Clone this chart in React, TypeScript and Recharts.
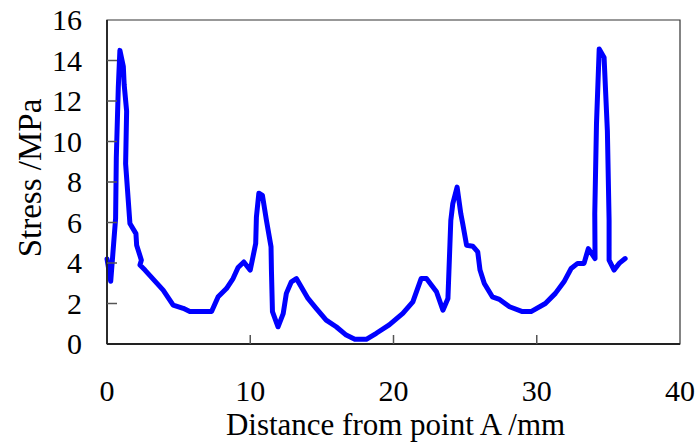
import { Label, Line, LineChart, ReferenceArea, XAxis, YAxis } from 'recharts'

// distance from point A (mm) in drawing order
const distance = [
  0, 0.26, 0.6, 0.65, 0.79, 0.9, 1.14, 1.2, 1.37, 1.3, 1.6, 2.02, 2.07, 2.4, 2.3, 2.65,
  3.92, 4.62, 5.32, 5.78, 7.3, 7.76, 8.34, 8.8, 9.15, 9.55, 10.0, 10.38, 10.43, 10.6,
  10.85, 11.13, 11.45, 11.48, 11.55, 11.94, 12.3, 12.52, 12.87, 13.22, 14.03, 14.6,
  15.3, 16.0, 16.7, 17.3, 18.1, 18.8, 19.7, 20.65, 21.35, 21.93, 22.3, 23.0, 23.45,
  23.8, 24.0, 24.14, 24.44, 24.7, 24.83, 25.1, 25.53, 25.88, 26.04, 26.34, 26.9, 27.4,
  28.1, 29.0, 29.6, 30.6, 31.3, 31.9, 32.4, 32.85, 33.3, 33.6, 34.07, 34.05, 34.17,
  34.36, 34.7, 34.93, 35.05, 35.05, 35.4, 35.75, 36.17,
]

// stress (MPa) at each of those points
const stress = [
  4.2, 3.1, 6.2, 9.2, 12.7, 14.5, 13.7, 12.8, 11.5, 8.9, 5.95, 5.45, 4.88, 4.14, 3.9, 3.65,
  2.66, 1.92, 1.76, 1.6, 1.6, 2.33, 2.74, 3.23, 3.78, 4.05, 3.65, 4.96, 6.27, 7.45,
  7.34, 6.1, 4.8, 3.6, 1.6, 0.85, 1.5, 2.5, 3.07, 3.23, 2.25, 1.76,
  1.18, 0.85, 0.44, 0.23, 0.23, 0.53, 0.94, 1.51, 2.08, 3.23, 3.23, 2.58, 1.67,
  2.25, 6.1, 6.93, 7.75, 6.43, 5.95, 4.88, 4.83, 4.55, 3.65, 2.99, 2.33, 2.2,
  1.84, 1.6, 1.6, 2.0, 2.5, 3.07, 3.73, 3.98, 3.98, 4.71, 4.22, 6.43, 10.87,
  14.57, 14.15, 10.54, 6.1, 4.14, 3.65, 3.98, 4.22,
]

const xTicks = [0, 10, 20, 30, 40]
const yTicks = [0, 2, 4, 6, 8, 10, 12, 14, 16]

const data = distance.map((d, i) => ({ d, s: stress[i] }))

const serif = { fontFamily: '"Liberation Serif", "DejaVu Serif", serif' }

// ticks point into the plot, labels sit well outside
function XTick({ x, y, payload }: any) {
  return (
    <g>
      {payload.value > 0 && payload.value < 40 && (
        <line x1={x} y1={y} x2={x} y2={y - 9} stroke='#555' strokeWidth={1.5} />
      )}
      <text x={x} y={y + 57} textAnchor='middle' style={serif} fontSize={30} fill='#000'>
        {payload.value}
      </text>
    </g>
  )
}

function YTick({ x, y, payload }: any) {
  return (
    <g>
      {payload.value > 0 && payload.value < 16 && (
        <line x1={x} y1={y} x2={x + 10} y2={y} stroke='#555' strokeWidth={1.5} />
      )}
      <text x={x - 25} y={y + 10} textAnchor='end' style={serif} fontSize={30} fill='#000'>
        {payload.value}
      </text>
    </g>
  )
}

export default function App() {
  return (
    <div style={{ position: 'absolute', left: 0, top: 0, background: '#fff', ...serif }}>
      <LineChart
        width={697}
        height={443}
        data={data}
        margin={{ top: 20, right: 17, bottom: 0, left: 0 }}
      >
        <ReferenceArea
          x1={0}
          x2={40}
          y1={0}
          y2={16}
          fill='none'
          stroke='#333'
          strokeWidth={1.2}
        />
        <XAxis
          dataKey='d'
          type='number'
          domain={[0, 40]}
          ticks={xTicks}
          interval={0}
          height={99}
          tickSize={0}
          tickMargin={0}
          tickLine={false}
          axisLine={{ stroke: '#222', strokeWidth: 1.8 }}
          tick={<XTick />}
        >
          <Label
            content={({ viewBox }: any) => (
              <text
                x={viewBox.x + viewBox.width / 2 + 2}
                y={435}
                textAnchor='middle'
                style={serif}
                fontSize={31}
                fill='#000'
              >
                Distance from point A /mm
              </text>
            )}
          />
        </XAxis>
        <YAxis
          type='number'
          domain={[0, 16]}
          ticks={yTicks}
          interval={0}
          width={107}
          tickSize={0}
          tickMargin={0}
          tickLine={false}
          axisLine={{ stroke: '#222', strokeWidth: 1.8 }}
          tick={<YTick />}
        >
          <Label
            content={() => (
              <text
                x={41}
                y={178}
                transform='rotate(-90 41 178)'
                textAnchor='middle'
                style={serif}
                fontSize={33}
                fill='#000'
              >
                Stress /MPa
              </text>
            )}
          />
        </YAxis>
        <Line
          dataKey='s'
          type='linear'
          stroke='#0000ff'
          strokeWidth={5}
          strokeLinejoin='round'
          strokeLinecap='round'
          dot={false}
          isAnimationActive={false}
        />
      </LineChart>
    </div>
  )
}
